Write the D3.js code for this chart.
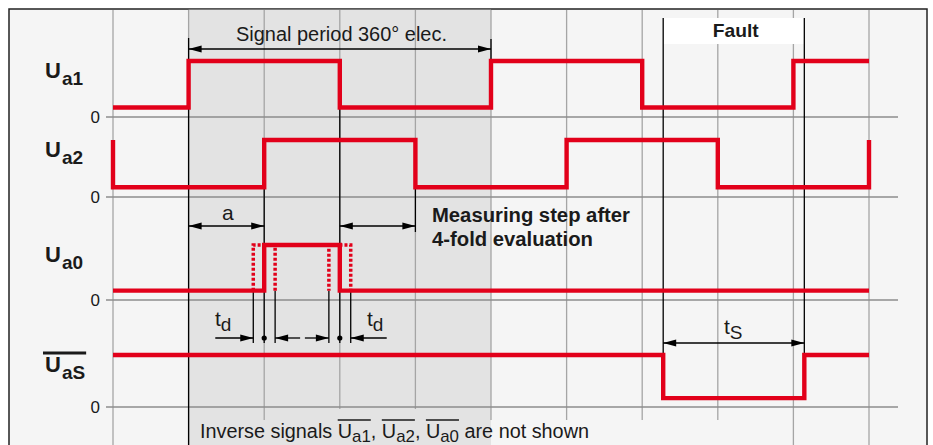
<!DOCTYPE html>
<html>
<head>
<meta charset="utf-8">
<script src="https://cdn.jsdelivr.net/npm/d3@7"></script>
<style>
  body { margin: 0; background: #fff; }
  text { font-family: "Liberation Sans", Arial, sans-serif; fill: #1a1a1a; }
</style>
</head>
<body>
<svg id="chart" width="933" height="445"></svg>
<script>
// time axis in electrical degrees, one grid step = 90°
var gridAngles = [0, 90, 180, 270, 360, 450, 540, 630, 720, 810, 900];
var channels = ["a1", "a2", "a0", "aS"];
var zeroLabels = ["0", "0", "0", "0"];

// step points [angle, logic level]
var ua1 = [[0, 0], [90, 1], [270, 0], [450, 1], [630, 0], [810, 1], [900, 1]];
var ua2 = [[0, 1], [0, 0], [180, 1], [360, 0], [540, 1], [720, 0], [900, 0], [900, 1]];
var ua0 = [[0, 0], [180, 1], [270, 0], [900, 0]];
var uaS = [[0, 1], [655, 0], [823, 1], [900, 1]];

var period = [90, 450];          // signal period 360°
var stepA = [90, 180];           // "a"
var measStep = [270, 360];       // measuring step
var refEdges = [180, 270];       // reference pulse edges
var td = 13;                     // edge tolerance
var fault = [655, 823];          // t_S

var signals = { a1: ua1, a2: ua2, a0: ua0, aS: uaS };

// layout
var zero = { a1: 117, a2: 197, a0: 300, aS: 407 };
var amp = { a1: 56, a2: 57, a0: 55, aS: 52 };
var lowFrac = 0.17;
var red = "#e2001a";

var svg = d3.select("#chart");

var x = d3.scaleLinear().domain([0, 900]).range([113, 869]);

function yOf(ch, v) {
  var lvl = d3.scaleLinear().domain([0, 1]).range([zero[ch], zero[ch] - amp[ch]]);
  return lvl(v === 0 ? lowFrac : v);
}

// frame + backgrounds
svg.append("rect").attr("x", 9).attr("y", 9).attr("width", 918).attr("height", 440)
    .attr("fill", "#f5f5f5").attr("stroke", "#222").attr("stroke-width", 1.5);
svg.append("rect").attr("x", x(period[0])).attr("y", 9.75)
    .attr("width", x(period[1]) - x(period[0])).attr("height", 440)
    .attr("fill", "#e3e3e3");

// vertical grid
svg.append("g").selectAll("line").data(gridAngles).enter().append("line")
    .attr("x1", function(d) { return x(d); })
    .attr("x2", function(d) { return x(d); })
    .attr("y1", 10)
    .attr("y2", function(d, i) {
      if (i < 2 || i > 8) return 445;
      if (d === 270 || d === 360) return 409;
      return 420;
    })
    .attr("stroke", "#a5a5a5").attr("stroke-width", 1.3);

// zero lines
svg.append("g").selectAll("line").data(channels).enter().append("line")
    .attr("x1", 106).attr("x2", 898)
    .attr("y1", function(d) { return zero[d]; })
    .attr("y2", function(d) { return zero[d]; })
    .attr("stroke", "#8c8c8c").attr("stroke-width", 1.3);

svg.append("g").selectAll("text").data(channels).enter().append("text")
    .attr("x", 100).attr("y", function(d) { return zero[d] + 6; })
    .attr("text-anchor", "end").attr("font-size", 17)
    .text(function(d, i) { return zeroLabels[i]; });

// channel labels
channels.forEach(function(ch) {
  var t = svg.append("text").attr("x", 45).attr("y", zero[ch] - amp[ch] + 17)
      .attr("font-size", 22).attr("font-weight", "bold");
  t.append("tspan").text("U");
  t.append("tspan").attr("font-size", 19).attr("dy", 7).attr("dx", 1).text(ch);
  if (ch === "aS") {
    var b = t.node().getBBox();
    svg.append("line").attr("x1", b.x - 2).attr("x2", b.x + b.width + 1)
        .attr("y1", b.y + 1).attr("y2", b.y + 1)
        .attr("stroke", "#1a1a1a").attr("stroke-width", 2.8);
  }
});

// black extension lines
var ext = [
  [period[0], 38, 445], [period[1], 39, 61],
  [refEdges[0], yOf("a2", 0), 343], [refEdges[1], yOf("a1", 0), 343],
  [measStep[1], yOf("a2", 0), 232],
  [refEdges[0] - td, yOf("a0", 0), 343], [refEdges[0] + td, yOf("a0", 0), 343],
  [refEdges[1] - td, yOf("a0", 0), 343], [refEdges[1] + td, yOf("a0", 0), 343],
  [fault[0], 18, yOf("aS", 0)], [fault[1], 18, yOf("aS", 1)]
];

// fault box
svg.append("rect").attr("x", x(fault[0])).attr("y", 18)
    .attr("width", x(fault[1]) - x(fault[0])).attr("height", 26).attr("fill", "#fff");
svg.append("text").attr("x", (x(fault[0]) + x(fault[1])) / 2 + 2).attr("y", 37)
    .attr("text-anchor", "middle").attr("font-size", 19).attr("font-weight", "bold")
    .attr("textLength", 46).attr("lengthAdjust", "spacingAndGlyphs")
    .text("Fault");

svg.append("g").selectAll("line").data(ext).enter().append("line")
    .attr("x1", function(d) { return x(d[0]); })
    .attr("x2", function(d) { return x(d[0]); })
    .attr("y1", function(d) { return d[1]; })
    .attr("y2", function(d) { return d[2]; })
    .attr("stroke", "#000").attr("stroke-width", 1.3);

// signals
var line = d3.line()
    .curve(d3.curveStepAfter);

channels.forEach(function(ch) {
  line.x(function(d) { return x(d[0]); }).y(function(d) { return yOf(ch, d[1]); });
  svg.append("path").attr("d", line(signals[ch]))
      .attr("fill", "none").attr("stroke", red).attr("stroke-width", 4.4);
});

// dashed tolerance pulses on Ua0
[-td, td].forEach(function(s) {
  var p = [[refEdges[0] + s, 0], [refEdges[0] + s, 1], [refEdges[1] + s, 1], [refEdges[1] + s, 0]];
  var pts = p.map(function(d) { return [x(d[0]), yOf("a0", d[1])]; });
  svg.append("path").attr("d", d3.line()(pts))
      .attr("fill", "none").attr("stroke", red).attr("stroke-width", 3.5)
      .attr("stroke-dasharray", "3,2");
});

// arrows
function head(px, py, dir) {
  svg.append("path")
      .attr("d", "M" + px + "," + py + "L" + (px - dir * 13) + "," + (py - 3.5) +
                 "L" + (px - dir * 13) + "," + (py + 3.5) + "Z")
      .attr("fill", "#000");
}
function dim(a0, a1, py) {
  svg.append("line").attr("x1", x(a0)).attr("x2", x(a1)).attr("y1", py).attr("y2", py)
      .attr("stroke", "#000").attr("stroke-width", 1.3);
  head(x(a0), py, -1);
  head(x(a1), py, 1);
}
dim(period[0], period[1], 49);
dim(stepA[0], stepA[1], 226);
dim(measStep[0], measStep[1], 226);
dim(fault[0], fault[1], 343);

// t_d pointers: long outer tails, short inner tails
var tails = [[38, 25], [24, 36]];
refEdges.forEach(function(e, i) {
  var yy = 338;
  var l = x(e - td), r = x(e + td);
  svg.append("line").attr("x1", l - tails[i][0]).attr("x2", l).attr("y1", yy).attr("y2", yy)
      .attr("stroke", "#000").attr("stroke-width", 1.3);
  svg.append("line").attr("x1", r).attr("x2", r + tails[i][1]).attr("y1", yy).attr("y2", yy)
      .attr("stroke", "#000").attr("stroke-width", 1.3);
  head(l, yy, 1);
  head(r, yy, -1);
  svg.append("circle").attr("cx", x(e)).attr("cy", yy).attr("r", 2.6).attr("fill", "#000");
});

function sub(px, py, main, s) {
  var t = svg.append("text").attr("x", px).attr("y", py).attr("font-size", 21);
  t.append("tspan").text(main);
  t.append("tspan").attr("font-size", 19).attr("dy", 5).text(s);
}
sub(215, 326, "t", "d");
sub(367, 326, "t", "d");
sub(724, 334, "t", "S");

// texts
svg.append("text").attr("x", 236).attr("y", 41).attr("font-size", 20)
    .attr("textLength", 211).attr("lengthAdjust", "spacingAndGlyphs")
    .text("Signal period 360° elec.");
svg.append("text").attr("x", 222).attr("y", 220).attr("font-size", 21).text("a");
svg.append("text").attr("x", 432).attr("y", 222).attr("font-size", 20).attr("font-weight", "bold")
    .attr("textLength", 198).attr("lengthAdjust", "spacingAndGlyphs")
    .text("Measuring step after");
svg.append("text").attr("x", 432).attr("y", 246).attr("font-size", 20).attr("font-weight", "bold")
    .attr("textLength", 161).attr("lengthAdjust", "spacingAndGlyphs")
    .text("4-fold evaluation");

// bottom note with overlined names
var pieces = [
  ["Inverse signals ", 0, 0], ["U", 0, 1], ["a1", 1, 1], [", ", 0, 0],
  ["U", 0, 1], ["a2", 1, 1], [", ", 0, 0], ["U", 0, 1], ["a0", 1, 1],
  [" are not shown", 0, 0]
];
var note = svg.append("text").attr("x", 200).attr("y", 438).attr("font-size", 20);
var subOn = false;
pieces.forEach(function(p) {
  var ts = note.append("tspan").text(p[0]);
  if (p[1] && !subOn) { ts.attr("dy", 4).attr("font-size", 17); subOn = true; }
  else if (p[1]) { ts.attr("font-size", 17); }
  else if (!p[1] && subOn) { ts.attr("dy", -4); subOn = false; }
});
note.attr("textLength", 389).attr("lengthAdjust", "spacingAndGlyphs");
var nn = note.node(), idx = 0, start = null;
pieces.forEach(function(p) {
  if (p[2] && start === null) start = idx;
  idx += p[0].length;
  if (p[2] && p[1]) {
    var x0 = nn.getStartPositionOfChar(start).x;
    var x1 = nn.getEndPositionOfChar(idx - 1).x;
    svg.append("line").attr("x1", x0).attr("x2", x1).attr("y1", 420).attr("y2", 420)
        .attr("stroke", "#1a1a1a").attr("stroke-width", 1.5);
    start = null;
  }
});
</script>
</body>
</html>
